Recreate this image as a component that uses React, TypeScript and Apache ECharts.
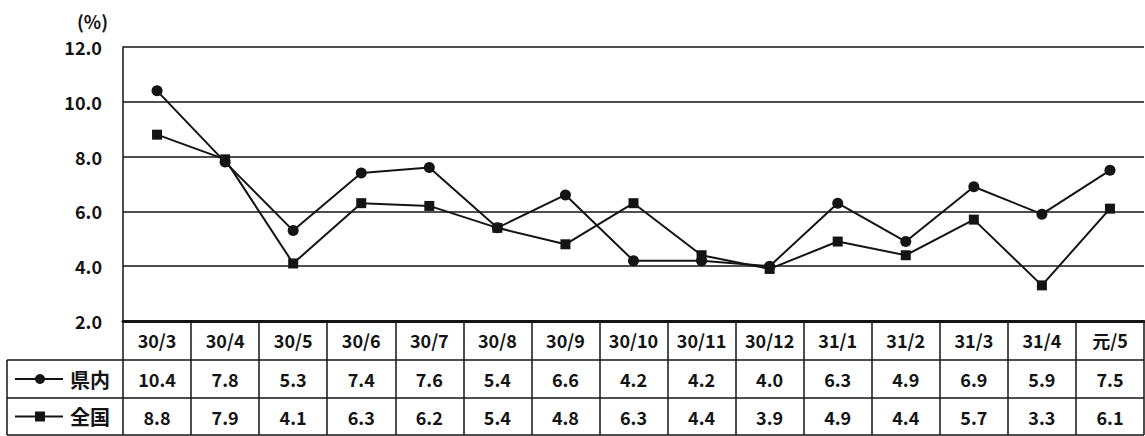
import React, { useEffect, useRef } from "react";
import * as echarts from "echarts";

const categories = ["30/3", "30/4", "30/5", "30/6", "30/7", "30/8", "30/9", "30/10", "30/11", "30/12", "31/1", "31/2", "31/3", "31/4", "元/5"];
const kennai = [10.4, 7.8, 5.3, 7.4, 7.6, 5.4, 6.6, 4.2, 4.2, 4.0, 6.3, 4.9, 6.9, 5.9, 7.5];
const zenkoku = [8.8, 7.9, 4.1, 6.3, 6.2, 5.4, 4.8, 6.3, 4.4, 3.9, 4.9, 4.4, 5.7, 3.3, 6.1];
const seriesNames = ["県内", "全国"];
const yMin = 2;
const yMax = 12;
const yStep = 2;

const W = 1145;
const H = 436;
const FONT = "'Noto Sans CJK JP', 'Noto Sans', sans-serif";
const INK = "#141414";

export default function App() {
  const ref = useRef<HTMLDivElement>(null);

  useEffect(() => {
    document.body.style.margin = "0";
    const el = ref.current;
    if (!el) return;
    const chart = echarts.init(el, null, { renderer: "svg" });

    const gridLeft = 123;
    const gridRight = 1;
    const gridTop = 47;
    const gridBottomY = 321;
    const row1Y = 360;
    const row2Y = 398;
    const tableBottom = 435;
    const tableLeft = 7;

    const tableLines: any[] = [
      { type: "line", shape: { x1: tableLeft, y1: row1Y, x2: W - gridRight, y2: row1Y }, style: { stroke: INK, lineWidth: 1.5 } },
      { type: "line", shape: { x1: tableLeft, y1: row2Y, x2: W - gridRight, y2: row2Y }, style: { stroke: INK, lineWidth: 1.5 } },
      { type: "line", shape: { x1: tableLeft, y1: tableBottom, x2: W - gridRight, y2: tableBottom }, style: { stroke: INK, lineWidth: 1.5 } },
      { type: "line", shape: { x1: tableLeft, y1: row1Y, x2: tableLeft, y2: tableBottom }, style: { stroke: INK, lineWidth: 1.5 } },
    ];

    const legendCells: any[] = seriesNames.map((name, i) => {
      const cy = i === 0 ? (row1Y + row2Y) / 2 : (row2Y + tableBottom) / 2;
      const marker =
        i === 0
          ? { type: "circle", shape: { cx: 40, cy, r: 5 }, style: { fill: INK } }
          : { type: "rect", shape: { x: 35, y: cy - 5, width: 10, height: 10 }, style: { fill: INK } };
      return {
        type: "group",
        children: [
          { type: "line", shape: { x1: 15, y1: cy, x2: 63, y2: cy }, style: { stroke: INK, lineWidth: 2 } },
          marker,
          {
            type: "text",
            x: 70,
            y: cy,
            style: { text: name, font: `bold 20px ${FONT}`, fill: INK, textVerticalAlign: "middle", textAlign: "left" },
          },
        ],
      };
    });

    const fmt = (v: number) => v.toFixed(1);
    const cellLabel = { show: true, margin: 10, fontSize: 18, fontWeight: "bold", fontFamily: FONT, color: INK, interval: 0 };

    chart.setOption({
      animation: false,
      backgroundColor: "#ffffff",
      grid: { left: gridLeft, right: gridRight, top: gridTop, bottom: H - gridBottomY },
      xAxis: [
        {
          type: "category",
          data: categories,
          position: "bottom",
          boundaryGap: true,
          axisLine: { show: true, lineStyle: { color: INK, width: 3 } },
          axisTick: { show: true, alignWithLabel: false, length: tableBottom - gridBottomY, lineStyle: { color: INK, width: 1.5 } },
          axisLabel: cellLabel,
          splitLine: { show: false },
        },
        {
          type: "category",
          data: kennai.map(fmt),
          position: "bottom",
          offset: row1Y - gridBottomY,
          axisLine: { show: false },
          axisTick: { show: false },
          axisLabel: cellLabel,
          splitLine: { show: false },
        },
        {
          type: "category",
          data: zenkoku.map(fmt),
          position: "bottom",
          offset: row2Y - gridBottomY,
          axisLine: { show: false },
          axisTick: { show: false },
          axisLabel: cellLabel,
          splitLine: { show: false },
        },
      ],
      yAxis: {
        type: "value",
        min: yMin,
        max: yMax,
        interval: yStep,
        axisLine: { show: true, lineStyle: { color: INK, width: 1.5 } },
        axisTick: { show: false },
        axisLabel: { margin: 21, fontSize: 18, fontWeight: "bold", fontFamily: FONT, color: INK, formatter: (v: number) => v.toFixed(1) },
        splitLine: { show: true, lineStyle: { color: INK, width: 1.5 } },
      },
      graphic: [
        {
          type: "text",
          x: 77,
          y: 21,
          style: { text: "(%)", font: `bold 18px ${FONT}`, fill: INK, textVerticalAlign: "middle" },
        },
        ...tableLines,
        ...legendCells,
      ],
      series: [
        {
          name: seriesNames[0],
          type: "line",
          data: kennai,
          xAxisIndex: 0,
          symbol: "circle",
          symbolSize: 11,
          lineStyle: { color: INK, width: 2 },
          itemStyle: { color: INK },
          z: 3,
        },
        {
          name: seriesNames[1],
          type: "line",
          data: zenkoku,
          xAxisIndex: 0,
          symbol: "rect",
          symbolSize: 10,
          lineStyle: { color: INK, width: 2 },
          itemStyle: { color: INK },
          z: 3,
        },
      ],
    });

    return () => chart.dispose();
  }, []);

  return <div ref={ref} style={{ width: W, height: H }} />;
}
